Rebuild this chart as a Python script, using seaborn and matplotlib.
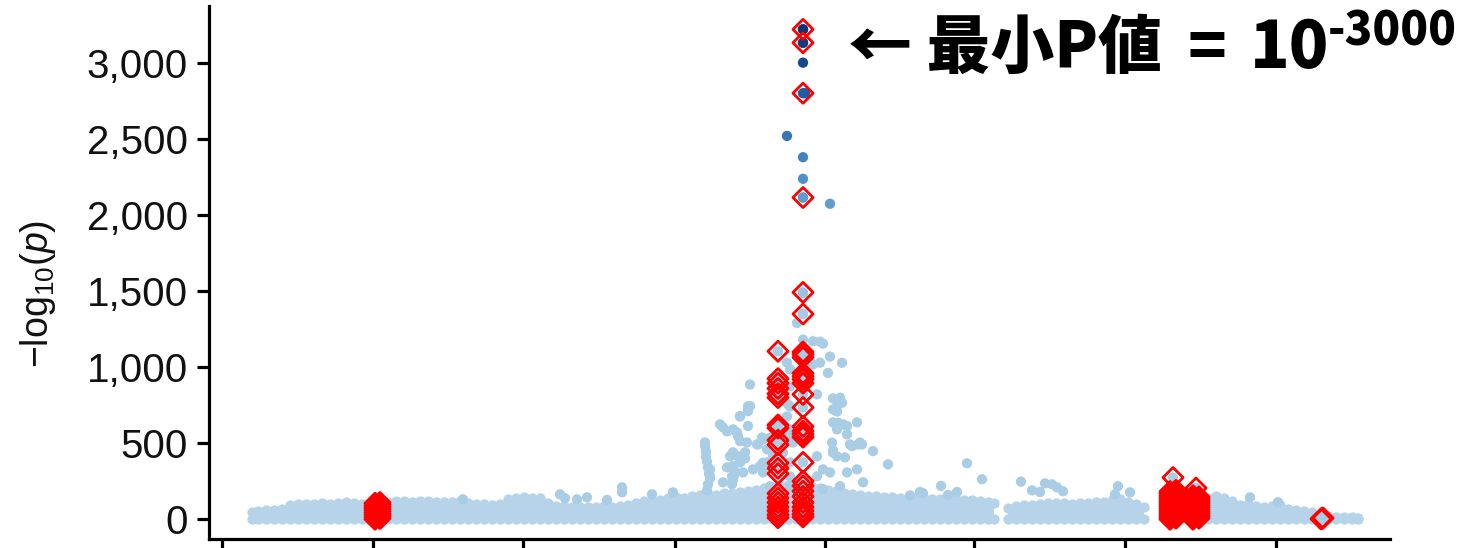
import numpy as np
import pandas as pd
import matplotlib
matplotlib.use("Agg")
import matplotlib.pyplot as plt
import seaborn as sns
from matplotlib.colors import LinearSegmentedColormap, Normalize
from matplotlib.ticker import StrMethodFormatter

# ---------------- data (positions in arbitrary genomic units, values = -log10 p) ----------------
x_ticks = [222, 373, 523, 675, 825, 974, 1125, 1276]
y_ticks = [0, 500, 1000, 1500, 2000, 2500, 3000]

# dense background of SNPs: upper envelope of the band (None = gap between segments)
band_pos = [252, 258, 266, 274, 282, 290, 298, 306, 314, 322, 330, 338, 346, 354, 362, 368, 376,
            388, 396, 404, 412, 420, 428, 436, 444, 452, 460, 468, 476, 484, 492, 500, 508, 516, 524,
            532, 540, 548, 556, 564, 572, 580, 588, 596, 604, 612, 620, 628, 636, 644, 652, 660, 668,
            676, 684, 692, 700, 708, 716, 724, 732, 740, 748, 756, 764, 772, 780, 788, 796, 804, 812,
            820, 828, 836, 844, 852, 860, 868, 876, 884, 892, 900, 908, 916, 924, 932, 940, 948, 956,
            964, 972, 980, 988, 994, None,
            1008, 1016, 1024, 1032, 1040, 1048, 1056, 1064, 1072, 1080, 1088, 1096, 1104, 1112, 1120,
            1128, 1136, 1144, None,
            1208, 1216, 1224, 1232, 1240, 1248, 1256, 1264, 1272, 1280, 1288, 1296, 1304, 1312, 1320,
            1328, 1336, 1344, 1352, 1358]
band_top = [45, 55, 62, 60, 70, 95, 100, 98, 102, 105, 100, 108, 112, 105, 100, 95, 100,
            112, 118, 120, 115, 118, 120, 116, 112, 115, 118, 108, 102, 98, 95, 100, 135, 140, 145,
            142, 138, 105, 90, 85, 80, 78, 82, 80, 85, 82, 88, 95, 110, 120, 125, 128, 140,
            145, 140, 150, 160, 165, 160, 170, 175, 180, 185, 195, 205, 215, 220, 225, 230, 225, 215,
            205, 195, 185, 175, 165, 158, 155, 150, 148, 145, 142, 140, 138, 140, 135, 132, 135, 130,
            128, 125, 120, 115, 105, None,
            75, 85, 92, 95, 100, 105, 110, 105, 100, 105, 110, 112, 115, 125, 130,
            115, 100, 80, None,
            140, 150, 140, 120, 95, 100, 85, 80, 85, 95, 70, 60, 55, 50, 30,
            18, 15, 15, 12, 10]

# individual SNPs standing out above the band
light_pos = [463, 560, 565, 577, 587, 607, 622, 622, 652, 673,
             705, 705, 706, 706, 707, 708, 709, 710, 708, 707,
             733, 734, 734, 733, 732, 745, 745, 758,
             720, 723, 727, 733, 737, 740, 748, 750, 748, 738, 747, 762, 757, 733, 727, 732, 723,
             710, 710, 730, 740, 743, 753, 767, 767, 763, 770,
             790, 787, 790, 790, 787, 790, 793, 790, 790, 790,
             748, 740, 737, 763, 770, 750, 748, 740, 788, 783, 773, 760, 763, 787,
             797, 803, 813, 820, 823, 813, 820, 830, 842, 828, 817, 833, 840, 837, 842, 833, 837,
             833, 838, 843, 847, 857, 837, 850, 858, 862, 832, 833, 833, 837, 845, 852, 860, 873,
             847, 817, 817, 823, 830, 847, 857, 863, 823, 840,
             888, 967, 982, 941, 1021, 1032, 1045, 1052, 1040, 910, 920, 923, 957, 948, 1057, 1063,
             1115, 1130, 1118, 1250, 1278]
light_logp = [131, 164, 138, 131, 144, 127, 210, 177, 164, 177,
              505, 480, 445, 410, 380, 340, 300, 270, 230, 190,
              350, 320, 290, 260, 230, 440, 400, 492,
              624, 604, 578, 591, 571, 676, 722, 886, 742, 545, 505, 538, 492, 440, 341, 282, 243,
              328, 282, 414, 374, 308, 328, 460, 374, 308, 217,
              985, 1030, 873, 742, 676, 591, 505, 374, 282, 217,
              613, 514, 416, 525, 536, 744, 711, 678, 755, 438, 416, 350, 372, 547,
              1291, 1182, 1171, 1168, 1155, 1018, 1030, 1070, 1029, 962, 821, 795, 799, 744, 766, 722, 709,
              637, 635, 624, 613, 637, 591, 492, 492, 492, 504, 453, 438, 414, 407, 481, 504, 448,
              558, 414, 282, 328, 308, 308, 328, 243, 197, 217,
              361, 368, 263, 219, 247, 190, 236, 230, 179, 157, 179, 171, 179, 160, 210, 184,
              164, 177, 217, 144, 112]

# strongest SNPs (coloured by significance)
lead_pos = [803, 803, 803, 805, 787, 803, 803, 803, 830, 803, 803]
lead_logp = [3222, 3134, 3003, 2802, 2521, 2381, 2239, 2116, 2075, 1488, 1350]

# highlighted SNPs (red open diamonds)
red_pos = ([778] * 20 + [803] * 29 + [375] * 8 + [380] * 8 +
           [1170] * 14 + [1176] * 14 + [1173] + [1193] * 12 + [1199] * 11 + [1196] +
           [1321, 1322, 1323])
red_logp = ([1105, 925, 895, 860, 825, 800, 620, 600, 520, 490, 370, 335, 300, 170, 140, 110, 80, 55, 30, 10] +
            [3222, 3134, 2802, 2116, 1492, 1350, 1100, 1085, 1065, 960, 940, 920, 895, 821, 735, 610,
             580, 560, 540, 374, 250, 220, 185, 150, 110, 80, 55, 33, 15] +
            [0, 15, 30, 45, 60, 75, 90, 105] + [5, 20, 35, 50, 65, 80, 95, 110] +
            [0, 14, 28, 42, 56, 70, 84, 98, 112, 126, 140, 154, 168, 182] +
            [7, 21, 35, 49, 63, 77, 91, 105, 119, 133, 147, 161, 175, 190] + [274] +
            [0, 14, 28, 42, 56, 70, 84, 98, 112, 126, 140, 154] +
            [7, 21, 35, 49, 63, 77, 91, 105, 119, 133, 147] + [205] +
            [2, 5, 8])

annot_label = "← 最小P値"
annot_eq = "="
annot_base = "10"
annot_exp = "-3000"

# ---------------- styling ----------------
sns.set_theme(style="ticks")
plt.rcParams["font.family"] = ["Liberation Sans", "DejaVu Sans"]
plt.rcParams["mathtext.fontset"] = "custom"
plt.rcParams["mathtext.rm"] = "Liberation Sans"
plt.rcParams["mathtext.it"] = "Liberation Sans:italic"

BAND = "#b6d3e9"
cmap = LinearSegmentedColormap.from_list(
    "snp", ["#aacde6", "#80b4dc", "#4d8dc8", "#2060a8", "#0b3270"])
norm = Normalize(1300, 3250, clip=True)

W, H = 1460, 548
fig = plt.figure(figsize=(W / 100, H / 100), dpi=100)
ax = fig.add_axes([209 / W, 1 - 539 / H, (1390 - 209) / W, (539 - 6.4) / H])

band = pd.DataFrame({"pos": pd.array(band_pos, dtype="Float64").astype(float),
                     "top": pd.array(band_top, dtype="Float64").astype(float)})
ax.fill_between(band["pos"], 0, band["top"], color=BAND, lw=0, zorder=1)
bd = band.dropna()
sns.scatterplot(x=bd["pos"], y=bd["top"], color=BAND, s=55, linewidth=0, ax=ax, zorder=2)
sns.scatterplot(x=bd["pos"], y=bd["top"] * 0, color=BAND, s=55, linewidth=0, ax=ax, zorder=2)

snps = pd.concat([
    pd.DataFrame({"pos": light_pos, "logp": light_logp}),
    pd.DataFrame({"pos": lead_pos, "logp": lead_logp}),
    pd.DataFrame({"pos": red_pos, "logp": red_logp}),
], ignore_index=True).sort_values("logp")
sns.scatterplot(data=snps, x="pos", y="logp", hue="logp", palette=cmap, hue_norm=norm,
                s=55, linewidth=0, legend=False, ax=ax, zorder=3)

red = pd.DataFrame({"pos": red_pos, "logp": red_logp})
sns.scatterplot(data=red, x="pos", y="logp", marker="D", s=105, color="#ff0000",
                edgecolor="#ff0000", linewidth=2.0, legend=False, ax=ax, zorder=4)
ax.collections[-1].set_facecolor("none")

ax.set_xlim(209, 1390)
ax.set_ylim(-130, 3373)
ax.set_xticks(x_ticks)
ax.set_xticklabels([])
ax.set_yticks(y_ticks)
ax.yaxis.set_major_formatter(StrMethodFormatter("{x:,.0f}"))
ax.set_xlabel("")
ax.set_ylabel("−log$_{10}$($\\mathit{p}$)", fontsize=27, color="#111111")
ax.yaxis.set_label_coords(-0.128, 0.46)
sns.despine(ax=ax)
for s in ["left", "bottom"]:
    ax.spines[s].set_linewidth(2.3)
    ax.spines[s].set_color("black")
ax.tick_params(axis="both", direction="out", length=9, width=2.3, color="black")
ax.tick_params(axis="y", labelsize=29, pad=6, labelcolor="#111111")

cjk = ["Noto Sans CJK JP", "DejaVu Sans"]
base_y = 1 - 68 / H
fig.text(848 / W, base_y, annot_label, fontsize=46, fontweight="heavy",
         family=cjk, va="baseline", ha="left", color="black")
fig.text(1188 / W, base_y, annot_eq, fontsize=46, fontweight="heavy",
         family=cjk, va="baseline", ha="left", color="black")
fig.text(1250 / W, base_y, annot_base, fontsize=47, fontweight="heavy",
         family=cjk, va="baseline", ha="left", color="black")
fig.text(1328 / W, 1 - 9 / H, annot_exp, fontsize=33, fontweight="heavy",
         family=cjk, va="top", ha="left", color="black")

fig.savefig("out.png", dpi=100)
